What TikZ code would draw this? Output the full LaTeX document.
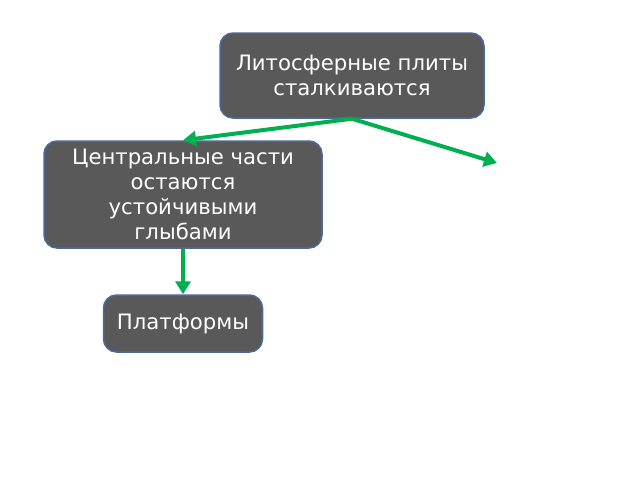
\documentclass[tikz,border=0pt]{standalone}
\usepackage{fontspec}
\setmainfont{DejaVu Sans}
\usepackage{tikz}
\usetikzlibrary{arrows.meta}
\usetikzlibrary{positioning}
\definecolor{boxfill}{HTML}{595959}
\definecolor{boxline}{HTML}{4A6A9A}
\definecolor{arrowgreen}{HTML}{00B050}

\begin{document}
\begin{tikzpicture}[x=1pt,y=-1pt,
    ->,>={Triangle[width=15pt,length=13pt]},
    block/.style={draw=boxline,line width=1.5pt,fill=boxfill,rounded corners=13pt,
      text=white,align=center,inner sep=0pt,
      font=\fontsize{21.2}{25}\selectfont}]
    \useasboundingbox (0,0) rectangle (640,480);
    \coordinate (START) at (352,75.5);

    % FIRST LAYER
    \node[block,
      minimum width=264pt,
    minimum height=85pt] (PLATES) at (START)
    {Литосферные плиты\\сталкиваются};

    % SECOND LAYER
    \node[block,
      minimum width=278pt,
      minimum height=107pt,
      node distance=119pt,
      below of=PLATES,
    xshift=-169pt] (CENTRE)
    {Центральные части\\остаются\\устойчивыми\\глыбами};
    \coordinate (FREE) at (497,163);

    % THIRD LAYER
    \node[block,
      minimum width=159pt,
      minimum height=57pt,
      node distance=129pt,
    below of=CENTRE] (PLATFORMS)
    {Платформы};

    % LINES
    \begin{scope}[arrowgreen,line width=4pt]
      \path
      (PLATES.south) edge (CENTRE.north)
      (PLATES.south) edge (FREE)
      (CENTRE.south) edge (PLATFORMS.north)
      ;
    \end{scope}
  \end{tikzpicture}
\end{document}
